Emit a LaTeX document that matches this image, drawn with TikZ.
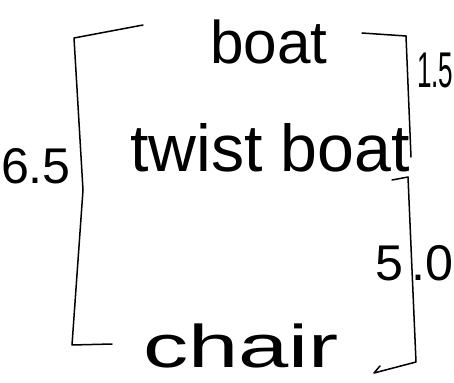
\documentclass[tikz,border=0pt]{standalone}
\usepackage{fontspec}
\setmainfont{Liberation Sans}

\tikzset{
  conformer/.style={anchor=base, inner sep=0pt, font=\fontsize{60}{60}\selectfont},
  energy/.style={anchor=base west, inner sep=0pt, font=\fontsize{50}{50}\selectfont},
  bracket/.style={line width=1.5pt}
}

\begin{document}
\begin{tikzpicture}[x=0.035cm, y=-0.035cm, line cap=round, line join=round]

% --- Frame (pixel-like units, y downwards) ---
\useasboundingbox (0,0) rectangle (454,383);

% --- Conformers ---
\node[conformer] (boat) at (269,63) {boat};
\node[conformer, font=\fontsize{66}{66}\selectfont] (twist) at (270,171) {twist boat};
\node[conformer] (chair) at (241,367) {\scalebox{1.5}[1]{chair}};

% --- Left bracket: chair to boat ---
\draw[bracket]
  (143,25) -- (74,38) -- (83,190) -- (72,345) -- (112,344);

% --- Right bracket, upper: boat to twist boat ---
\draw[bracket]
  (362,33) -- (406,36) -- (411,157);

% --- Right bracket, lower: twist boat to chair ---
\draw[bracket]
  (392,180) -- (408,177) -- (416,362) -- (374,373) -- (380,366);

% --- Energy gaps ---
\node[energy, anchor=base east] (gapL) at (71,183) {6.5};
\node[energy] (gapT) at (417,87) {\scalebox{0.52}[1]{1.5}};
\node[energy] (gapB) at (375,280) {5\kern8pt.0};

\end{tikzpicture}
\end{document}
